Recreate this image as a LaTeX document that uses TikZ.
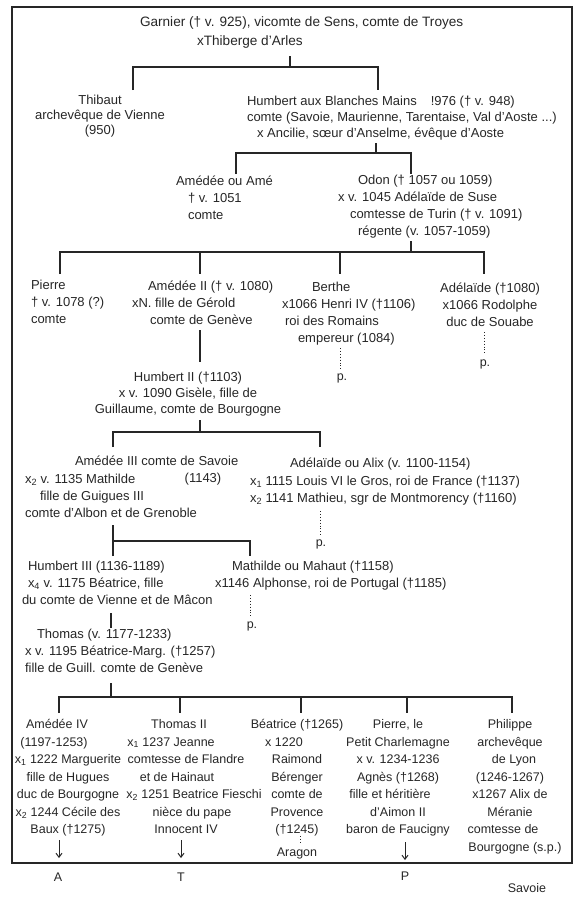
\documentclass[tikz,border=0pt]{standalone}
\usepackage{fontspec}
\setmainfont{Liberation Sans}
\usetikzlibrary{arrows.meta}
\definecolor{ink}{gray}{0.15}
\begin{document}
\begin{tikzpicture}[x=1pt,y=-1pt,
  every node/.style={inner sep=0pt,outer sep=0pt,text=ink},
  txt/.style={font=\fontsize{13}{17}\selectfont,execute at begin node=\strut},
  txtL/.style={txt,align=left,anchor=north west},
  txtC/.style={txt,align=center,anchor=north},
  colnode/.style={font=\fontsize{12.5}{17.5}\selectfont,execute at begin node=\strut,align=center,anchor=north},
  lbl/.style={font=\fontsize{12.5}{15}\selectfont},
  treeline/.style={draw=ink,line width=1.1pt},
  dotline/.style={draw=ink,line width=0.9pt,dotted},
  arr/.style={draw=ink,line width=1pt,-{Straight Barb[length=4pt,width=6pt]}},
  boxframe/.style={draw=ink,line width=1.4pt}]
\useasboundingbox (0,0) rectangle (580,900);
\draw[boxframe] (12,7) rectangle (572,863);

% ---- people ----
\node[txtL,font=\fontsize{13.6}{17}\selectfont] (garnier) at (140,16.5) {Garnier († v. 925), vicomte de Sens, comte de Troyes\\[2pt]\hspace*{57pt}xThiberge d'Arles};
\node[txtC] (thibaut) at (100,95.5) {Thibaut\\[-2pt]archevêque de Vienne\\[-2pt](950)};
\node[txtL] (humbert) at (247,96.5) {Humbert aux Blanches Mains\hspace{14pt}!976 († v. 948)\\[-1pt]comte (Savoie, Maurienne, Tarentaise, Val d'Aoste ...)\\[-1pt]\hspace*{10pt}x Ancilie, sœur d'Anselme, évêque d'Aoste};
\node[txtL] (ame) at (176,175.5) {Amédée ou Amé\\\hspace*{12pt}† v. 1051\\\hspace*{12pt}comte};
\node[txtL] (odon) at (338,175.5) {\hspace*{20pt}Odon († 1057 ou 1059)\\x v. 1045 Adélaïde de Suse\\\hspace*{12pt}comtesse de Turin († v. 1091)\\\hspace*{20pt}régente (v. 1057-1059)};
\node[txtL] (pierre) at (31,280.5) {Pierre\\† v. 1078 (?)\\comte};
\node[txtL] (amedeeII) at (132,280.5) {\hspace*{16pt}Amédée II († v. 1080)\\xN. fille de Gérold\\\hspace*{18pt}comte de Genève};
\node[txtL] (berthe) at (282,282.5) {\hspace*{30pt}Berthe\\x1066 Henri IV (†1106)\\\hspace*{3pt}roi des Romains\\\hspace*{16pt}empereur (1084)};
\node[txtC] (adelaide) at (490,282.5) {Adélaïde (†1080)\\x1066 Rodolphe\\duc de Souabe};
\node[txtC] (humbertII) at (188,372.5) {Humbert II (†1103)\\[-1pt]x v. 1090 Gisèle, fille de\\[-1pt]Guillaume, comte de Bourgogne};
\node[txtL] (amedeeIII) at (25,455.5) {\hspace*{50pt}Amédée III comte de Savoie\\[1pt]x\textsubscript{2} v. 1135 Mathilde\\\hspace*{15pt}fille de Guigues III\\comte d'Albon et de Grenoble};
\node[txtC] (amedeeIIIdate) at (203,470.5) {(1143)};
\node[txtL] (alix) at (250,457.5) {\hspace*{40pt}Adélaïde ou Alix (v. 1100-1154)\\[1pt]x\textsubscript{1} 1115 Louis VI le Gros, roi de France (†1137)\\x\textsubscript{2} 1141 Mathieu, sgr de Montmorency (†1160)};
\node[txtL] (humbertIII) at (22,561) {\hspace*{6pt}Humbert III (1136-1189)\\\hspace*{6pt}x\textsubscript{4} v. 1175 Béatrice, fille\\du comte de Vienne et de Mâcon};
\node[txtL] (mathilde) at (215,561) {\hspace*{17pt}Mathilde ou Mahaut (†1158)\\x1146 Alphonse, roi de Portugal (†1185)};
\node[txtL] (thomas) at (25,629) {\hspace*{12pt}Thomas (v. 1177-1233)\\x v. 1195 Béatrice-Marg. (†1257)\\fille de Guill. comte de Genève};

\node[colnode] (amedeeIV) at (68,719.5) {\hspace*{-22pt}Amédée IV\\\hspace*{-28pt}(1197-1253)\\x\textsubscript{1} 1222 Marguerite\\fille de Hugues\\duc de Bourgogne\\x\textsubscript{2} 1244 Cécile des\\Baux (†1275)};
\node[colnode] (thomasII) at (186,719.5) {\hspace*{-14pt}Thomas II\\\hspace*{-30pt}x\textsubscript{1} 1237 Jeanne\\comtesse de Flandre\\\hspace*{-18pt}et de Hainaut\\\hspace*{16pt}x\textsubscript{2} 1251 Beatrice Fieschi\\\hspace*{12pt}nièce du pape\\Innocent IV};
\node[colnode] (beatrice) at (297,719.5) {Béatrice (†1265)\\\hspace*{-26pt}x 1220\\Raimond\\Bérenger\\comte de\\Provence\\(†1245)};
\node[colnode] (aragon) at (297,844.5) {Aragon};
\node[colnode] (pierreII) at (398,719.5) {Pierre, le\\Petit Charlemagne\\x v. 1234-1236\\Agnès (†1268)\\\hspace*{-16pt}fille et héritière\\d'Aimon II\\baron de Faucigny};
\node[colnode] (philippe) at (510,719.5) {Philippe\\archevêque\\\hspace*{8pt}de Lyon\\(1246-1267)\\x1267 Alix de\\Méranie\\\hspace*{-14pt}comtesse de\\\hspace*{10pt}Bourgogne (s.p.)};

% ---- small labels ----
\node[lbl] (pBerthe) at (342,378) {p.};
\node[lbl] (pAdelaide) at (485,364) {p.};
\node[lbl] (pAlix) at (321,544) {p.};
\node[lbl] (pMathilde) at (252,626) {p.};
\node[lbl] (labA) at (58,877) {A};
\node[lbl] (labT) at (181,877) {T};
\node[lbl] (labP) at (405,876) {P};
\node[lbl] (savoie) at (527,888) {Savoie};

% ---- connector points ----
\coordinate (g0) at (290,56); \coordinate (g1) at (290,67);
\coordinate (gL) at (133,67); \coordinate (gR) at (378,67);
\coordinate (gLe) at (133,90); \coordinate (gRe) at (378,90);
\coordinate (h0) at (376,143); \coordinate (h1) at (376,153);
\coordinate (hL) at (236,153); \coordinate (hR) at (411,153);
\coordinate (hLe) at (236,174); \coordinate (hRe) at (411,174);
\coordinate (o0) at (411,241); \coordinate (o1) at (411,252);
\coordinate (oA) at (60,252); \coordinate (oB) at (200,252); \coordinate (oC) at (340,252); \coordinate (oD) at (484,252);
\coordinate (oAe) at (60,274); \coordinate (oBe) at (200,274); \coordinate (oCe) at (340,274); \coordinate (oDe) at (484,274);
\coordinate (a2a) at (200,330); \coordinate (a2b) at (200,362);
\coordinate (bd0) at (340,348); \coordinate (bd1) at (340,370);
\coordinate (ad0) at (484,332); \coordinate (ad1) at (484,355);
\coordinate (u0) at (200,420); \coordinate (u1) at (200,432);
\coordinate (uL) at (113,432); \coordinate (uR) at (320,432);
\coordinate (uLe) at (113,447); \coordinate (uRe) at (320,447);
\coordinate (xd0) at (320,511); \coordinate (xd1) at (320,535);
\coordinate (m0) at (113,525); \coordinate (mL) at (113,541); \coordinate (mR) at (250,541);
\coordinate (mLe) at (113,556); \coordinate (mRe) at (250,556);
\coordinate (md0) at (250,595); \coordinate (md1) at (250,617);
\coordinate (t0) at (111,613); \coordinate (t1) at (111,628);
\coordinate (s0) at (111,683); \coordinate (s1) at (111,697);
\coordinate (sA) at (59,697); \coordinate (sB) at (180,697); \coordinate (sC) at (301,697); \coordinate (sD) at (407,697); \coordinate (sE) at (512,697);
\coordinate (sAe) at (59,713); \coordinate (sBe) at (180,713); \coordinate (sCe) at (301,713); \coordinate (sDe) at (407,713); \coordinate (sEe) at (512,713);
\coordinate (rd0) at (300,836); \coordinate (rd1) at (300,843);
\coordinate (arA0) at (59,840); \coordinate (arA1) at (59,858);
\coordinate (arT0) at (181,840); \coordinate (arT1) at (181,858);
\coordinate (arP0) at (405,842); \coordinate (arP1) at (405,860);

% ---- tree lines ----
\draw[treeline] (g0) -- (g1); \draw[treeline] (gLe) -- (gL) -- (gR) -- (gRe);
\draw[treeline] (h0) -- (h1); \draw[treeline] (hLe) -- (hL) -- (hR) -- (hRe);
\draw[treeline] (o0) -- (o1); \draw[treeline] (oAe) -- (oA) -- (oD) -- (oDe);
\draw[treeline] (oB) -- (oBe); \draw[treeline] (oC) -- (oCe);
\draw[treeline] (a2a) -- (a2b);
\draw[dotline] (bd0) -- (bd1); \draw[dotline] (ad0) -- (ad1);
\draw[treeline] (u0) -- (u1); \draw[treeline] (uLe) -- (uL) -- (uR) -- (uRe);
\draw[dotline] (xd0) -- (xd1);
\draw[treeline] (m0) -- (mL); \draw[treeline] (mLe) -- (mL) -- (mR) -- (mRe);
\draw[dotline] (md0) -- (md1);
\draw[treeline] (t0) -- (t1);
\draw[treeline] (s0) -- (s1); \draw[treeline] (sAe) -- (sA) -- (sE) -- (sEe);
\draw[treeline] (sB) -- (sBe); \draw[treeline] (sC) -- (sCe); \draw[treeline] (sD) -- (sDe);
\draw[dotline] (rd0) -- (rd1);
\draw[arr] (arA0) -- (arA1); \draw[arr] (arT0) -- (arT1); \draw[arr] (arP0) -- (arP1);
\end{tikzpicture}
\end{document}
